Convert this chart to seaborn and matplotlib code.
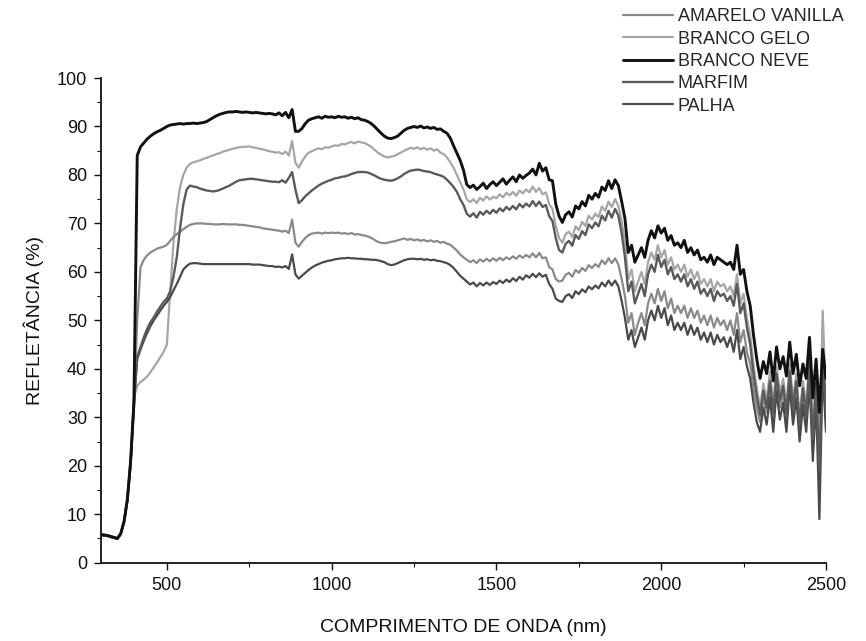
import numpy as np
import pandas as pd
import matplotlib
matplotlib.use("Agg")
import matplotlib.pyplot as plt
import seaborn as sns
from matplotlib.ticker import MultipleLocator
from matplotlib.lines import Line2D

# wavelength grid (nm)
wavelength = list(range(300, 2501, 10))

series_names = ["AMARELO VANILLA", "BRANCO GELO", "BRANCO NEVE", "MARFIM", "PALHA"]

branco_neve = [
    5.8, 5.7, 5.6, 5.4, 5.2, 5.0, 6.0, 8.5, 13.0, 21.0,
    33.0, 84.0, 85.8, 86.6, 87.4, 88.0, 88.5, 88.9, 89.2, 89.6,
    90.0, 90.3, 90.4, 90.5, 90.6, 90.5, 90.6, 90.6, 90.7, 90.6,
    90.7, 90.8, 91.0, 91.4, 91.8, 92.2, 92.5, 92.7, 92.9, 93.0,
    93.0, 93.1, 93.0, 92.9, 93.0, 92.9, 92.8, 92.9, 92.8, 92.7,
    92.6, 92.7, 92.6, 92.4, 92.8, 92.2, 92.9, 91.8, 93.5, 89.0,
    89.0, 89.6, 90.6, 91.3, 91.6, 91.8, 92.0, 91.7, 92.1, 91.9,
    92.0, 91.8, 92.1, 91.9, 92.0, 91.7, 91.9, 91.6, 91.8, 91.4,
    91.3, 91.0, 90.6, 90.0, 89.3, 88.6, 88.0, 87.6, 87.5, 87.7,
    88.0, 88.6, 89.2, 89.6, 89.8, 90.0, 89.8, 90.1, 89.7, 89.9,
    89.6, 89.8, 89.4, 89.5, 89.0, 88.6, 87.6, 86.0, 84.5, 83.0,
    81.0, 78.0, 77.4, 77.9, 77.0, 77.6, 78.3, 77.2, 78.0, 78.6,
    77.8, 78.5, 79.2, 78.1, 78.9, 79.6, 78.6, 80.0, 79.3, 79.9,
    80.4, 81.2, 80.0, 82.4, 80.8, 81.5, 79.0, 78.8, 74.0, 71.5,
    70.2, 71.8, 72.4, 71.3, 73.6, 73.0, 74.5, 73.6, 75.8, 75.0,
    76.2, 75.4, 77.5, 76.8, 78.8, 77.2, 79.0, 77.8, 74.5, 71.0,
    64.0, 65.5, 62.0, 63.5, 65.0, 63.0, 66.5, 68.5, 67.0, 69.5,
    68.0, 69.0, 66.5, 67.5, 65.5, 66.0, 65.0, 66.5, 64.0, 65.0,
    63.5, 64.5, 62.5, 63.0, 62.0, 63.5, 61.5, 63.0, 62.5, 62.0,
    61.5, 62.0, 60.5, 65.5, 59.5, 60.5, 56.0, 53.0, 47.0, 42.0,
    38.0, 41.5, 39.0, 43.5, 37.5, 44.5, 40.0, 42.5, 38.5, 45.5,
    39.0, 43.0, 36.5, 41.0, 38.0, 46.5, 34.0, 42.0, 31.0, 44.0,
    38.0,
]

branco_gelo = [
    5.9, 5.8, 5.6, 5.4, 5.2, 5.1, 6.1, 8.6, 13.2, 21.5,
    34.0, 36.5, 37.3, 37.8, 38.4, 39.3, 40.3, 41.3, 42.4, 43.5,
    45.0, 56.0, 66.0, 73.0, 77.5, 80.0, 81.5, 82.3, 82.6, 82.8,
    83.0, 83.3, 83.5, 83.8, 84.0, 84.3, 84.5, 84.8, 85.0, 85.2,
    85.4, 85.6, 85.7, 85.8, 85.8, 85.9, 85.7, 85.6, 85.4, 85.3,
    85.1, 84.9, 84.8, 84.6, 84.7, 84.3, 84.8, 84.0, 87.0, 82.5,
    81.5, 82.8, 83.8, 84.6, 84.9, 85.2, 85.5, 85.3, 85.7, 85.6,
    85.9, 86.1, 86.0, 86.4, 86.3, 86.6, 86.8, 86.5, 86.9, 86.7,
    86.6, 86.2, 85.8, 85.2, 84.6, 84.2, 83.8, 83.6, 83.8, 83.9,
    84.3, 84.6, 85.0, 85.3, 85.6, 85.4, 85.7, 85.3, 85.6, 85.2,
    85.5, 85.0, 85.3, 84.6, 84.3, 83.6, 82.6, 81.5, 80.0, 78.5,
    77.0, 75.0, 74.4, 75.0, 74.2, 75.3, 74.7, 75.6, 74.9, 75.5,
    75.2, 76.0, 75.4, 76.3, 75.8, 76.5, 75.7, 76.8, 76.2, 77.0,
    76.4, 77.6, 76.5, 77.3, 76.0, 76.4, 74.0, 73.0, 69.5, 67.0,
    66.0, 67.8, 68.3, 67.2, 69.4, 68.6, 70.3, 69.5, 71.6, 70.8,
    72.0, 71.3, 73.5, 72.6, 74.5, 73.4, 75.0, 73.6, 70.5, 66.0,
    58.5, 60.5, 56.0, 58.0, 60.0, 57.5, 62.0, 64.0, 62.5, 65.5,
    63.0, 64.5, 61.5, 63.0, 60.5, 61.5, 60.0, 61.5, 59.0, 60.5,
    58.5, 60.0, 57.5, 58.5, 57.0, 58.5, 56.0, 58.0, 57.0, 57.5,
    56.0, 57.0, 55.0, 59.5, 53.5, 55.5, 50.5, 47.0, 41.0, 36.0,
    32.0, 37.0, 33.5, 39.5, 32.5, 40.5, 35.0, 38.0, 32.5, 41.0,
    33.5, 39.0, 30.0, 37.5, 32.0, 43.0, 27.0, 39.0, 23.0, 52.0,
    33.0,
]

marfim = [
    5.7, 5.6, 5.5, 5.3, 5.1, 5.0, 5.9, 8.4, 12.8, 20.5,
    33.0, 42.5, 44.5, 46.5, 48.2, 49.6, 50.6, 51.8, 52.8, 53.8,
    54.5, 56.0, 59.0, 63.0, 69.0, 74.0, 77.0, 77.8, 77.6, 77.5,
    77.2, 77.0, 76.8, 76.7, 76.6, 76.7, 76.9, 77.2, 77.5, 77.8,
    78.2, 78.6, 78.9, 79.0, 79.1, 79.2, 79.2, 79.1, 79.0, 78.9,
    78.8, 78.7, 78.6, 78.6, 78.5, 78.9, 78.4, 79.4, 80.6, 77.0,
    74.2, 74.8, 75.6, 76.2, 76.8, 77.3, 77.8, 78.2, 78.5, 78.8,
    79.0, 79.3, 79.4, 79.6, 79.7, 79.9, 80.2, 80.4, 80.6, 80.6,
    80.6, 80.5, 80.2, 79.9, 79.5, 79.2, 79.0, 78.9, 78.8, 79.0,
    79.3, 79.7, 80.2, 80.6, 80.9, 81.0, 81.1, 81.0, 80.8, 80.7,
    80.6, 80.3, 80.1, 79.9, 79.6, 79.0, 78.3, 77.5, 76.5, 75.0,
    73.8, 72.0, 71.4, 72.1, 71.2, 72.4, 71.8, 72.6, 72.0, 72.8,
    72.2, 73.1, 72.5, 73.4, 72.8, 73.6, 72.9, 74.0, 73.3, 74.1,
    73.5, 74.6, 73.6, 74.5, 73.4, 73.8, 71.5, 70.5, 67.0, 64.5,
    64.0, 65.8, 66.4, 65.4, 67.6, 66.8, 68.4, 67.6, 69.8, 69.0,
    70.2, 69.4, 71.6, 70.6, 72.6, 71.2, 73.0, 71.6, 68.0, 63.0,
    56.0, 58.0, 53.5, 55.5, 57.5, 55.0, 59.5, 61.5, 60.0, 63.5,
    61.0, 62.5, 59.5, 61.0, 58.5, 59.5, 58.0, 59.5, 57.0, 58.5,
    56.5, 58.0, 55.5, 56.5, 55.0, 56.5, 54.0, 56.0, 55.0, 55.5,
    54.0, 55.0, 53.0, 57.5, 51.5, 53.5, 48.5, 45.0, 39.0, 34.5,
    30.5, 35.5, 32.0, 37.5, 31.0, 39.0, 33.5, 36.5, 31.0, 39.5,
    32.0, 37.5, 28.5, 36.0, 30.5, 41.0, 25.5, 37.0, 19.0, 44.0,
    31.0,
]

amarelo_vanilla = [
    5.8, 5.7, 5.6, 5.4, 5.2, 5.0, 6.0, 8.5, 13.0, 21.0,
    32.0, 50.0, 61.0, 62.5, 63.4, 64.0, 64.4, 64.8, 65.0, 65.2,
    65.6, 66.4, 67.2, 67.8, 68.3, 68.8, 69.3, 69.7, 69.9, 70.0,
    70.0, 70.0, 69.9, 69.9, 69.8, 69.8, 69.8, 69.9, 69.8, 69.8,
    69.8, 69.8, 69.7, 69.7, 69.6, 69.5, 69.4, 69.3, 69.2, 69.0,
    68.9, 68.8, 68.7, 68.6, 68.5, 68.3, 68.5, 68.0, 70.8, 66.0,
    65.2, 66.2, 67.0, 67.6, 67.9, 68.0, 68.1, 67.9, 68.1, 68.0,
    68.1, 68.0, 68.1, 67.9, 68.0, 67.8, 68.0, 67.7, 67.8, 67.6,
    67.5, 67.3, 67.0, 66.6, 66.2, 66.0, 65.9, 66.0, 66.2, 66.3,
    66.5, 66.7, 66.9, 66.6, 66.8, 66.5, 66.7, 66.4, 66.6, 66.3,
    66.5, 66.2, 66.4, 66.0, 66.2, 65.8, 65.6, 65.0, 64.4, 63.6,
    63.0, 62.5, 62.0, 62.4, 61.8, 62.6, 62.1, 62.7, 62.2, 62.8,
    62.3, 62.9, 62.4, 63.0, 62.6, 63.2, 62.7, 63.4, 62.9, 63.5,
    63.0, 63.8, 63.0, 63.9, 62.8, 63.0, 61.0, 60.5, 58.5, 58.0,
    58.2, 59.4, 59.8, 59.0, 60.4, 59.8, 60.8, 60.2, 61.4, 60.8,
    61.6, 61.0, 62.4, 61.6, 62.8, 61.8, 62.8, 61.5, 58.5, 55.0,
    49.5, 51.5, 47.0, 49.5, 51.5, 49.0, 53.5, 55.5, 53.5, 56.5,
    54.0, 56.0, 52.5, 54.5, 51.5, 53.0, 51.5, 53.0, 50.5, 52.5,
    50.5, 52.0, 49.5, 51.0, 49.0, 51.0, 48.5, 50.5, 49.0, 50.0,
    48.0, 50.0, 47.0, 51.5, 45.5, 48.0, 43.5, 41.0, 36.0, 32.0,
    29.0, 34.0, 31.0, 36.0, 29.5, 37.5, 32.0, 35.0, 29.5, 38.5,
    30.5, 36.0, 27.0, 34.5, 29.0, 39.5, 24.0, 35.5, 17.0, 42.0,
    29.0,
]

palha = [
    5.7, 5.6, 5.5, 5.3, 5.1, 4.9, 5.9, 8.4, 12.8, 20.5,
    33.0, 42.0, 44.0, 45.8, 47.4, 48.8, 50.0, 51.0, 52.0, 53.0,
    53.8, 54.8, 56.2, 57.5, 59.0, 60.5, 61.2, 61.7, 61.8, 61.8,
    61.7, 61.6, 61.6, 61.6, 61.6, 61.6, 61.6, 61.6, 61.6, 61.6,
    61.6, 61.6, 61.6, 61.6, 61.6, 61.6, 61.5, 61.5, 61.5, 61.4,
    61.3, 61.2, 61.2, 61.0, 61.1, 60.9, 61.2, 60.6, 63.6, 59.5,
    58.6, 59.2, 59.8, 60.4, 60.9, 61.3, 61.6, 61.9, 62.1, 62.3,
    62.4, 62.6, 62.7, 62.8, 62.8, 62.9, 62.8, 62.8, 62.7, 62.7,
    62.6, 62.6, 62.5, 62.5, 62.4, 62.2, 62.0, 61.6, 61.4, 61.5,
    61.8, 62.1, 62.4, 62.6, 62.7, 62.7, 62.6, 62.7, 62.5, 62.6,
    62.4, 62.5, 62.3, 62.2, 62.0, 61.8, 61.4, 60.8, 60.0, 59.2,
    58.6, 58.0, 57.4, 57.8, 57.0, 57.7, 57.2, 57.8, 57.3, 57.9,
    57.5, 58.2, 57.7, 58.4, 57.9, 58.7, 58.1, 59.0, 58.4, 59.3,
    58.8, 59.6, 58.9, 59.7, 59.0, 59.4, 57.5, 56.5, 54.5, 54.0,
    53.8, 55.0, 55.4, 54.6, 56.0, 55.4, 56.4, 55.8, 57.0, 56.4,
    57.2, 56.6, 57.8, 57.0, 58.2, 57.2, 58.2, 57.0, 54.0, 50.5,
    46.0, 48.0, 44.5, 46.5, 48.5, 46.0, 50.0, 52.0, 50.0, 53.0,
    50.5, 52.5, 49.0, 51.0, 48.0, 49.5, 48.0, 49.5, 47.0, 49.0,
    47.0, 48.5, 46.0, 47.5, 45.5, 47.5, 45.0, 47.0, 45.5, 46.5,
    44.5, 46.5, 43.5, 48.0, 42.0, 44.5, 40.5, 38.0, 33.0, 29.0,
    27.0, 32.0, 28.5, 34.0, 27.0, 35.5, 29.5, 33.0, 27.0, 36.5,
    28.5, 34.0, 25.0, 32.5, 27.0, 37.5, 21.0, 33.5, 9.0, 40.0,
    27.0,
]

x_ticks = [500, 1000, 1500, 2000, 2500]
y_ticks = [0, 10, 20, 30, 40, 50, 60, 70, 80, 90, 100]

values = {
    "AMARELO VANILLA": amarelo_vanilla,
    "BRANCO GELO": branco_gelo,
    "BRANCO NEVE": branco_neve,
    "MARFIM": marfim,
    "PALHA": palha,
}
for k, v in values.items():
    assert len(v) == len(wavelength), (k, len(v))

styles = {
    "AMARELO VANILLA": dict(color="#8a8a8a", lw=1.6),
    "BRANCO GELO": dict(color="#a6a6a6", lw=1.6),
    "BRANCO NEVE": dict(color="#111111", lw=2.1),
    "MARFIM": dict(color="#5a5a5a", lw=1.7),
    "PALHA": dict(color="#4a4a4a", lw=1.6),
}

sns.set_theme(style="ticks")
plt.rcParams["font.family"] = ["Liberation Sans", "DejaVu Sans"]

fig = plt.figure(figsize=(8.66, 6.41), dpi=100)
ax = fig.add_axes([0.1166, 0.1222, 0.8372, 0.7561])

draw_order = ["BRANCO GELO", "AMARELO VANILLA", "PALHA", "MARFIM", "BRANCO NEVE"]
for name in draw_order:
    df = pd.DataFrame({"wl": wavelength, "r": values[name]})
    sns.lineplot(data=df, x="wl", y="r", ax=ax, color=styles[name]["color"],
                 linewidth=styles[name]["lw"], legend=False, sort=False)

ax.set_xlim(300, 2500)
ax.set_ylim(0, 100)
ax.set_xticks(x_ticks)
ax.set_yticks(y_ticks)
ax.xaxis.set_minor_locator(MultipleLocator(250))
ax.yaxis.set_minor_locator(MultipleLocator(5))
ax.tick_params(axis="both", which="major", direction="out", length=5, width=1.0,
               labelsize=13, colors="#111111", pad=5)
ax.tick_params(axis="both", which="minor", direction="out", length=3, width=0.8, colors="#111111")
for s in ["left", "bottom"]:
    ax.spines[s].set_color("#111111")
    ax.spines[s].set_linewidth(1.3)
sns.despine(ax=ax)

ax.set_xlabel("COMPRIMENTO DE ONDA (nm)", fontsize=14, color="#111111", labelpad=18)
ax.set_ylabel("REFLETÂNCIA (%)", fontsize=14, color="#111111", labelpad=9)

handles = [Line2D([0], [0], color=styles[n]["color"], lw=styles[n]["lw"]) for n in series_names]
fig.legend(handles, series_names, loc="upper left", bbox_to_anchor=(0.715, 0.993),
           frameon=False, fontsize=13, handlelength=2.8, handletextpad=0.25,
           labelspacing=0.3, borderaxespad=0.0, borderpad=0.2)

fig.savefig("out.png", dpi=100, facecolor="white")
